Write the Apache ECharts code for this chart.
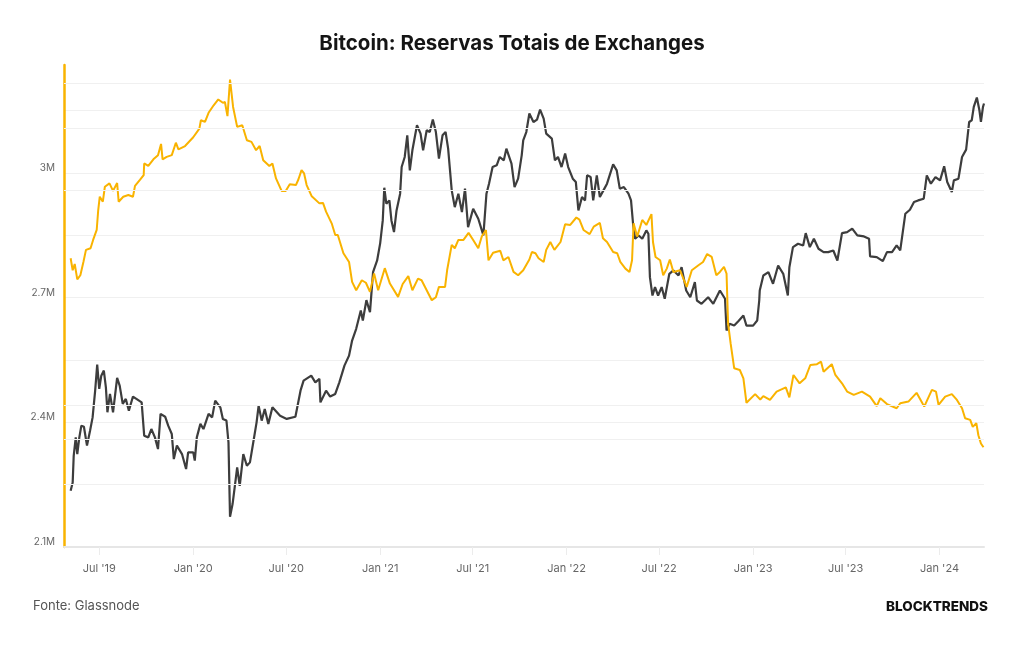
<!DOCTYPE html>
<html>
<head>
<meta charset="utf-8">
<title>Bitcoin: Reservas Totais de Exchanges</title>
<script src="https://cdn.jsdelivr.net/npm/echarts@6/dist/echarts.min.js"></script>
<style>
  html, body { margin: 0; padding: 0; background: #fff; }
  #chart { width: 1024px; height: 645px; }
</style>
</head>
<body>
<div id="chart"></div>
<script>
// reservas totais em exchanges (milhoes de BTC)
const reserves = [
  ['2019-05-06', 2.795], ['2019-05-10', 2.766], ['2019-05-14', 2.781], ['2019-05-19', 2.744],
  ['2019-05-25', 2.754], ['2019-05-31', 2.786], ['2019-06-05', 2.815], ['2019-06-14', 2.819],
  ['2019-06-19', 2.839], ['2019-06-26', 2.863], ['2019-06-29', 2.911], ['2019-07-02', 2.943],
  ['2019-07-08', 2.931], ['2019-07-12', 2.967], ['2019-07-21', 2.975], ['2019-07-28', 2.957],
  ['2019-08-05', 2.976], ['2019-08-08', 2.931], ['2019-08-17', 2.943], ['2019-08-27', 2.947],
  ['2019-09-05', 2.943], ['2019-09-09', 2.969], ['2019-09-19', 2.984], ['2019-09-26', 2.995],
  ['2019-09-27', 3.023], ['2019-10-05', 3.017], ['2019-10-15', 3.033], ['2019-10-24', 3.043],
  ['2019-10-30', 3.070], ['2019-11-02', 3.033], ['2019-11-10', 3.039], ['2019-11-20', 3.043],
  ['2019-11-28', 3.073], ['2019-12-03', 3.057], ['2019-12-16', 3.065], ['2020-01-01', 3.086],
  ['2020-01-13', 3.107], ['2020-01-16', 3.127], ['2020-01-24', 3.123], ['2020-01-31', 3.145],
  ['2020-02-10', 3.163], ['2020-02-19', 3.177], ['2020-02-28', 3.169], ['2020-03-03', 3.171],
  ['2020-03-08', 3.137], ['2020-03-13', 3.225], ['2020-03-19', 3.159], ['2020-03-27', 3.111],
  ['2020-04-06', 3.115], ['2020-04-15', 3.079], ['2020-04-24', 3.075], ['2020-05-03', 3.055],
  ['2020-05-10', 3.065], ['2020-05-17', 3.031], ['2020-05-29', 3.017], ['2020-06-04', 3.023],
  ['2020-06-11', 2.987], ['2020-06-22', 2.957], ['2020-06-30', 2.957], ['2020-07-08', 2.973],
  ['2020-07-20', 2.971], ['2020-07-25', 2.985], ['2020-07-31', 3.007], ['2020-08-05', 2.999],
  ['2020-08-10', 2.971], ['2020-08-20', 2.944], ['2020-09-04', 2.927], ['2020-09-11', 2.928],
  ['2020-09-17', 2.907], ['2020-09-28', 2.879], ['2020-10-05', 2.851], ['2020-10-10', 2.851],
  ['2020-10-21', 2.807], ['2020-11-01', 2.786], ['2020-11-07', 2.738], ['2020-11-15', 2.718],
  ['2020-11-26', 2.742], ['2020-12-04', 2.736], ['2020-12-12', 2.714], ['2020-12-20', 2.758],
  ['2020-12-28', 2.718], ['2021-01-10', 2.771], ['2021-01-20', 2.734], ['2021-02-05', 2.702],
  ['2021-02-14', 2.733], ['2021-02-25', 2.752], ['2021-03-05', 2.718], ['2021-03-16', 2.746],
  ['2021-03-23', 2.742], ['2021-04-02', 2.718], ['2021-04-12', 2.694], ['2021-04-20', 2.701],
  ['2021-04-26', 2.726], ['2021-05-08', 2.726], ['2021-05-12', 2.766], ['2021-05-21', 2.827],
  ['2021-05-27', 2.819], ['2021-06-03', 2.839], ['2021-06-13', 2.839], ['2021-06-23', 2.856],
  ['2021-07-02', 2.839], ['2021-07-12', 2.819], ['2021-07-19', 2.848], ['2021-07-27', 2.863],
  ['2021-08-01', 2.790], ['2021-08-10', 2.808], ['2021-08-24', 2.813], ['2021-08-30', 2.790],
  ['2021-09-09', 2.798], ['2021-09-19', 2.762], ['2021-09-28', 2.754], ['2021-10-08', 2.766],
  ['2021-10-20', 2.792], ['2021-10-25', 2.810], ['2021-11-01', 2.807], ['2021-11-07', 2.795],
  ['2021-11-17', 2.786], ['2021-11-22', 2.815], ['2021-11-30', 2.834], ['2021-12-08', 2.815],
  ['2021-12-20', 2.834], ['2021-12-29', 2.877], ['2022-01-08', 2.875], ['2022-01-20', 2.893],
  ['2022-01-26', 2.888], ['2022-02-03', 2.863], ['2022-02-15', 2.853], ['2022-02-23', 2.871],
  ['2022-03-07', 2.880], ['2022-03-13', 2.843], ['2022-03-21', 2.834], ['2022-04-02', 2.810],
  ['2022-04-10', 2.807], ['2022-04-16', 2.786], ['2022-04-26', 2.770], ['2022-05-04', 2.762],
  ['2022-05-09', 2.790], ['2022-05-12', 2.879], ['2022-05-19', 2.847], ['2022-05-29', 2.887],
  ['2022-06-06', 2.875], ['2022-06-16', 2.901], ['2022-06-19', 2.834], ['2022-06-24', 2.798],
  ['2022-07-03', 2.790], ['2022-07-09', 2.754], ['2022-07-16', 2.770], ['2022-07-22', 2.792],
  ['2022-07-29', 2.762], ['2022-08-11', 2.766], ['2022-08-24', 2.726], ['2022-09-03', 2.766],
  ['2022-09-16', 2.778], ['2022-09-25', 2.786], ['2022-10-03', 2.805], ['2022-10-12', 2.798],
  ['2022-10-21', 2.754], ['2022-10-28', 2.762], ['2022-11-05', 2.774], ['2022-11-10', 2.758],
  ['2022-11-13', 2.638], ['2022-11-18', 2.590], ['2022-11-25', 2.530], ['2022-12-06', 2.526],
  ['2022-12-13', 2.506], ['2022-12-19', 2.447], ['2023-01-05', 2.468], ['2023-01-15', 2.455],
  ['2023-01-21', 2.463], ['2023-02-03', 2.454], ['2023-02-16', 2.474], ['2023-03-06', 2.484],
  ['2023-03-13', 2.460], ['2023-03-21', 2.514], ['2023-04-02', 2.494], ['2023-04-13', 2.506],
  ['2023-04-23', 2.538], ['2023-05-06', 2.540], ['2023-05-14', 2.546], ['2023-05-19', 2.522],
  ['2023-06-04', 2.540], ['2023-06-11', 2.514], ['2023-06-24', 2.494], ['2023-07-04', 2.474],
  ['2023-07-17', 2.466], ['2023-08-02', 2.474], ['2023-08-18', 2.462], ['2023-08-31', 2.439],
  ['2023-09-07', 2.458], ['2023-09-20', 2.444], ['2023-10-09', 2.434], ['2023-10-16', 2.446],
  ['2023-11-01', 2.450], ['2023-11-17', 2.471], ['2023-12-02', 2.438], ['2023-12-17', 2.478],
  ['2023-12-25', 2.474], ['2023-12-30', 2.442], ['2024-01-12', 2.462], ['2024-01-25', 2.468],
  ['2024-02-04', 2.454], ['2024-02-14', 2.434], ['2024-02-20', 2.410], ['2024-03-01', 2.406],
  ['2024-03-06', 2.389], ['2024-03-13', 2.398], ['2024-03-17', 2.369], ['2024-03-22', 2.349],
  ['2024-03-27', 2.340]
];

// preco do bitcoin (USD, escala log, eixo oculto)
const btcPrice = [
  ['2019-05-06', 5750], ['2019-05-10', 6070], ['2019-05-12', 7210], ['2019-05-16', 8120],
  ['2019-05-19', 7290], ['2019-05-23', 8120], ['2019-05-27', 8760], ['2019-06-01', 8700],
  ['2019-06-07', 7700], ['2019-06-13', 8480], ['2019-06-18', 9240], ['2019-06-23', 10980],
  ['2019-06-27', 12990], ['2019-07-01', 11110], ['2019-07-05', 12100], ['2019-07-10', 12500],
  ['2019-07-14', 11220], ['2019-07-17', 9550], ['2019-07-22', 10750], ['2019-07-28', 9550],
  ['2019-08-05', 11920], ['2019-08-10', 11340], ['2019-08-16', 10080], ['2019-08-22', 10410],
  ['2019-08-28', 9650], ['2019-09-05', 10570], ['2019-09-22', 10180], ['2019-09-27', 8210],
  ['2019-10-05', 8120], ['2019-10-11', 8570], ['2019-10-18', 8120], ['2019-10-24', 7530],
  ['2019-10-29', 9450], ['2019-11-07', 9280], ['2019-11-13', 8760], ['2019-11-20', 8300],
  ['2019-11-24', 7060], ['2019-11-30', 7700], ['2019-12-10', 7290], ['2019-12-18', 6620],
  ['2019-12-22', 7370], ['2020-01-01', 7370], ['2020-01-04', 6990], ['2020-01-08', 8120],
  ['2020-01-15', 8860], ['2020-01-21', 8570], ['2020-01-31', 9450], ['2020-02-07', 9240],
  ['2020-02-13', 10300], ['2020-02-23', 9860], ['2020-02-28', 9150], ['2020-03-06', 9050],
  ['2020-03-10', 7860], ['2020-03-13', 4860], ['2020-03-18', 5280], ['2020-03-23', 6010],
  ['2020-03-27', 6690], ['2020-04-01', 5940], ['2020-04-08', 7290], ['2020-04-15', 6760],
  ['2020-04-21', 6910], ['2020-04-27', 7780], ['2020-05-04', 8950], ['2020-05-08', 9970],
  ['2020-05-14', 9050], ['2020-05-20', 9760], ['2020-05-27', 8860], ['2020-06-04', 9860],
  ['2020-06-19', 9340], ['2020-07-02', 9150], ['2020-07-19', 9280], ['2020-07-29', 10980],
  ['2020-08-04', 11720], ['2020-08-19', 12100], ['2020-08-27', 11590], ['2020-09-04', 11850],
  ['2020-09-06', 10180], ['2020-09-17', 10980], ['2020-09-25', 10570], ['2020-10-05', 10750],
  ['2020-10-13', 11590], ['2020-10-23', 12910], ['2020-11-01', 13770], ['2020-11-07', 15180],
  ['2020-11-15', 16370], ['2020-11-24', 18430], ['2020-11-28', 17270], ['2020-12-05', 19700],
  ['2020-12-12', 18230], ['2020-12-18', 23610], ['2020-12-26', 25460], ['2021-01-01', 28480],
  ['2021-01-06', 32980], ['2021-01-09', 40740], ['2021-01-13', 36740], ['2021-01-19', 37530],
  ['2021-01-23', 32980], ['2021-01-28', 30580], ['2021-02-02', 35180], ['2021-02-09', 39200],
  ['2021-02-12', 46560], ['2021-02-18', 49680], ['2021-02-23', 57150], ['2021-02-28', 45570],
  ['2021-03-05', 51870], ['2021-03-14', 60980], ['2021-03-21', 57780], ['2021-03-26', 51870],
  ['2021-04-02', 59030], ['2021-04-08', 58380], ['2021-04-14', 63260], ['2021-04-20', 58380],
  ['2021-04-26', 49170], ['2021-05-03', 57150], ['2021-05-09', 58380], ['2021-05-14', 52440],
  ['2021-05-21', 40040], ['2021-05-27', 35940], ['2021-06-03', 39200], ['2021-06-10', 34800],
  ['2021-06-16', 40490], ['2021-06-22', 31580], ['2021-07-02', 35570], ['2021-07-12', 33340],
  ['2021-07-22', 29930], ['2021-07-28', 39200], ['2021-08-02', 41820], ['2021-08-09', 46560],
  ['2021-08-17', 47070], ['2021-08-23', 49680], ['2021-08-31', 48620], ['2021-09-05', 52440],
  ['2021-09-15', 47590], ['2021-09-21', 40910], ['2021-09-28', 43190], ['2021-10-05', 50220],
  ['2021-10-08', 55340], ['2021-10-14', 58380], ['2021-10-20', 65770], ['2021-10-28', 62290],
  ['2021-11-04', 63260], ['2021-11-10', 67490], ['2021-11-17', 63670], ['2021-11-22', 57780],
  ['2021-12-03', 55950], ['2021-12-09', 48620], ['2021-12-15', 49680], ['2021-12-22', 46560],
  ['2021-12-29', 50780], ['2022-01-04', 46560], ['2022-01-13', 43190], ['2022-01-19', 42260],
  ['2022-01-24', 35180], ['2022-01-31', 38340], ['2022-02-06', 37530], ['2022-02-10', 44120],
  ['2022-02-17', 43640], ['2022-02-22', 37530], ['2022-03-01', 44120], ['2022-03-07', 38340],
  ['2022-03-14', 40040], ['2022-03-21', 41820], ['2022-04-02', 47380], ['2022-04-09', 45570],
  ['2022-04-15', 40490], ['2022-04-23', 40910], ['2022-05-02', 39200], ['2022-05-07', 37530],
  ['2022-05-11', 32280], ['2022-05-15', 29300], ['2022-05-22', 29930], ['2022-05-29', 29300],
  ['2022-06-06', 30920], ['2022-06-10', 30260], ['2022-06-13', 22860], ['2022-06-18', 20300],
  ['2022-06-23', 21430], ['2022-06-29', 20300], ['2022-07-06', 21430], ['2022-07-12', 19880],
  ['2022-07-21', 23360], ['2022-07-29', 23870], ['2022-08-08', 23110], ['2022-08-14', 24380],
  ['2022-08-23', 20970], ['2022-08-31', 20080], ['2022-09-09', 22130], ['2022-09-13', 19660],
  ['2022-09-22', 19240], ['2022-10-05', 20080], ['2022-10-15', 19240], ['2022-10-28', 20970],
  ['2022-11-07', 19880], ['2022-11-10', 16190], ['2022-11-16', 16910], ['2022-11-25', 16720],
  ['2022-12-03', 17190], ['2022-12-13', 17840], ['2022-12-19', 16720], ['2023-01-01', 16720],
  ['2023-01-09', 17270], ['2023-01-13', 19660], ['2023-01-14', 20970], ['2023-01-21', 23110],
  ['2023-01-31', 23610], ['2023-02-09', 21900], ['2023-02-19', 24650], ['2023-03-01', 23360],
  ['2023-03-10', 20300], ['2023-03-13', 24380], ['2023-03-20', 27750], ['2023-03-30', 28370],
  ['2023-04-09', 28060], ['2023-04-14', 30380], ['2023-04-22', 27750], ['2023-04-30', 29300],
  ['2023-05-09', 27460], ['2023-05-19', 26870], ['2023-05-28', 26870], ['2023-06-07', 27160],
  ['2023-06-15', 25460], ['2023-06-24', 30380], ['2023-07-04', 30580], ['2023-07-14', 31260],
  ['2023-07-24', 29930], ['2023-08-06', 29740], ['2023-08-16', 29300], ['2023-08-18', 26130],
  ['2023-08-31', 26010], ['2023-09-12', 25350], ['2023-09-20', 26870], ['2023-09-30', 26870],
  ['2023-10-09', 28060], ['2023-10-16', 27160], ['2023-10-26', 34440], ['2023-11-04', 35340],
  ['2023-11-12', 37130], ['2023-11-20', 37530], ['2023-12-01', 37950], ['2023-12-07', 44120],
  ['2023-12-15', 41820], ['2023-12-24', 43640], ['2024-01-02', 42720], ['2024-01-10', 46770],
  ['2024-01-16', 42260], ['2024-01-25', 39610], ['2024-01-29', 42720], ['2024-02-07', 43190],
  ['2024-02-14', 49680], ['2024-02-22', 52110], ['2024-02-28', 62290], ['2024-03-04', 62980],
  ['2024-03-08', 68640], ['2024-03-14', 72930], ['2024-03-19', 67190], ['2024-03-22', 62290],
  ['2024-03-26', 68640], ['2024-03-28', 70170]
];

// marcas do eixo x
const xTickDates = ['2019-07-01', '2020-01-01', '2020-07-01', '2021-01-01', '2021-07-01',
  '2022-01-01', '2022-07-01', '2023-01-01', '2023-07-01', '2024-01-01'];
const monthNames = ['Jan', 'Feb', 'Mar', 'Apr', 'May', 'Jun', 'Jul', 'Aug', 'Sep', 'Oct', 'Nov', 'Dec'];

// rotulos do eixo das reservas (M)
const reserveLabels = [2.1, 2.4, 2.7, 3.0];
// linhas de grade do eixo oculto do preco
const priceGridValues = [6000, 8000, 10000, 40000, 60000, 80000];

const yellow = '#F9B300';
const dark = '#3d3d3d';
const font = 'Inter, "Noto Sans", sans-serif';

function toTime(s) {
  const p = s.split('-').map(Number);
  return Date.UTC(p[0], p[1] - 1, p[2]);
}

const xTicks = xTickDates.map(toTime);

const chart = echarts.init(document.getElementById('chart'));

const option = {
  animation: false,
  backgroundColor: '#fff',
  title: {
    text: 'Bitcoin: Reservas Totais de Exchanges',
    left: 'center',
    top: 28,
    textStyle: { fontFamily: font, fontSize: 20.5, fontWeight: 700, color: '#151515' }
  },
  grid: { left: 64, right: 40, top: 65, bottom: 98 },
  xAxis: {
    type: 'value',
    min: toTime('2019-04-23'),
    max: toTime('2024-03-28'),
    axisLine: { show: true, lineStyle: { color: '#e6e6e6', width: 2 } },
    axisTick: {
      show: true,
      length: 8,
      customValues: xTicks,
      lineStyle: { color: '#ececec', width: 1 }
    },
    axisLabel: {
      customValues: xTicks,
      margin: 16,
      fontFamily: font,
      fontSize: 11,
      color: '#666',
      formatter: function (v) {
        const d = new Date(v);
        return monthNames[d.getUTCMonth()] + " '" + String(d.getUTCFullYear()).slice(2);
      }
    },
    splitLine: { show: false }
  },
  yAxis: [
    {
      type: 'value',
      min: 2.1,
      max: 3.26,
      interval: 0.15,
      position: 'left',
      axisLine: { show: true, lineStyle: { color: yellow, width: 2.5 } },
      axisTick: { show: false },
      axisLabel: {
        margin: 9,
        fontFamily: font,
        fontSize: 10,
        color: '#666',
        verticalAlign: 'bottom',
        lineHeight: 10,
        formatter: function (v) {
          const r = Math.round(v * 100) / 100;
          return reserveLabels.some(l => Math.abs(l - r) < 0.001) ? parseFloat(r.toFixed(2)) + 'M' : '';
        }
      },
      splitLine: { show: true, showMaxLine: false, lineStyle: { color: '#f0f0f0', width: 1 } }
    },
    {
      type: 'log',
      logBase: 10,
      min: 4000,
      max: 90000,
      show: false,
      splitLine: { show: false }
    }
  ],
  series: [
    {
      name: 'Reservas',
      type: 'line',
      yAxisIndex: 0,
      data: reserves.map(d => [toTime(d[0]), d[1]]),
      showSymbol: false,
      symbol: 'none',
      lineStyle: { color: yellow, width: 2 },
      itemStyle: { color: yellow },
      z: 3
    },
    {
      name: 'Preço BTC',
      type: 'line',
      yAxisIndex: 1,
      data: btcPrice.map(d => [toTime(d[0]), d[1]]),
      showSymbol: false,
      symbol: 'none',
      lineStyle: { color: dark, width: 2.2 },
      itemStyle: { color: dark },
      z: 2,
      markLine: {
        silent: true,
        symbol: 'none',
        label: { show: false },
        lineStyle: { color: '#f0f0f0', width: 1, type: 'solid' },
        data: priceGridValues.map(v => ({ yAxis: v }))
      }
    }
  ],
  graphic: [
    {
      type: 'text',
      left: 33,
      top: 600,
      style: { text: 'Fonte: Glassnode', font: '13px ' + font, fill: '#555' }
    },
    {
      type: 'text',
      right: 36,
      top: 600,
      style: { text: 'BLOCKTRENDS', font: '800 13.5px ' + font, fill: '#111' }
    }
  ]
};

chart.setOption(option);
</script>
</body>
</html>
